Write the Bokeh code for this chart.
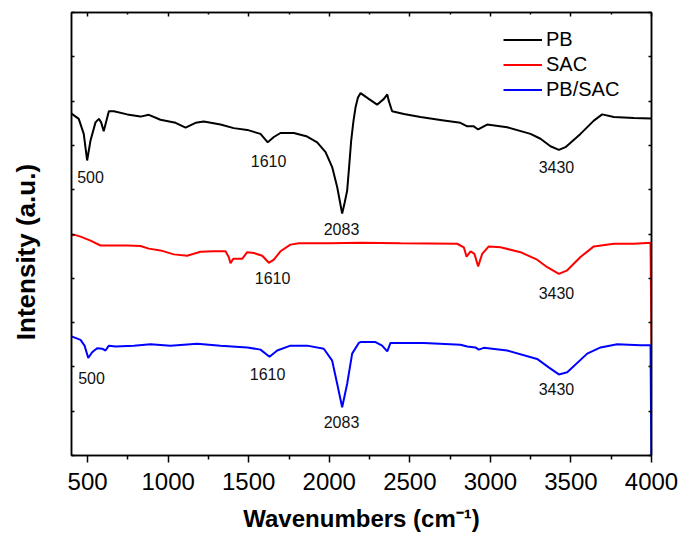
import math
from bokeh.plotting import figure
from bokeh.models import (Range1d, LinearAxis, FixedTicker, ColumnDataSource)
from bokeh.core.properties import value
from bokeh.embed import file_html
from bokeh.resources import INLINE

# ---------------- data ----------------
pb_x = [400, 445, 476, 497, 518, 549, 570, 584, 600, 617, 632, 663, 746, 828, 880, 952,
        1046, 1108, 1170, 1221, 1325, 1407, 1491, 1573, 1618, 1656, 1697, 1780, 1863, 1925,
        1977, 2018, 2049, 2065, 2080, 2095, 2111, 2125, 2136, 2150, 2163, 2178, 2194, 2245,
        2297, 2339, 2360, 2369, 2390, 2463, 2566, 2700, 2814, 2856, 2897, 2924, 2980, 3104,
        3249, 3311, 3373, 3425, 3466, 3559, 3642, 3694, 3766, 3890, 4000]
pb_y = [7.72, 7.60, 7.26, 6.66, 7.11, 7.52, 7.60, 7.52, 7.32, 7.56, 7.77, 7.77, 7.70, 7.65,
        7.69, 7.58, 7.51, 7.40, 7.51, 7.54, 7.47, 7.39, 7.35, 7.26, 7.07, 7.19, 7.28, 7.28,
        7.20, 7.07, 6.85, 6.51, 6.06, 5.75, 5.46, 5.70, 5.98, 6.60, 7.11, 7.55, 7.86, 8.08,
        8.18, 8.05, 7.92, 8.05, 8.15, 8.01, 7.77, 7.71, 7.64, 7.57, 7.51, 7.43, 7.43, 7.36,
        7.47, 7.41, 7.26, 7.15, 6.98, 6.90, 6.96, 7.26, 7.56, 7.70, 7.64, 7.62, 7.61]

sac_x = [400, 420, 456, 518, 580, 642, 746, 828, 880, 952, 1035, 1118, 1201, 1283, 1356,
         1376, 1387, 1404, 1459, 1491, 1532, 1584, 1625, 1656, 1697, 1759, 1811, 2000, 2200,
         2442, 2794, 2835, 2852, 2877, 2901, 2924, 2949, 2990, 3063, 3187, 3290, 3353, 3425,
         3477, 3559, 3642, 3766, 3890, 3994, 4000]
sac_y = [4.97, 4.98, 4.94, 4.85, 4.74, 4.74, 4.74, 4.73, 4.67, 4.63, 4.54, 4.51, 4.60, 4.61,
         4.61, 4.48, 4.34, 4.44, 4.44, 4.59, 4.57, 4.51, 4.35, 4.42, 4.61, 4.76, 4.79, 4.79,
         4.80, 4.79, 4.78, 4.70, 4.49, 4.61, 4.55, 4.27, 4.55, 4.72, 4.70, 4.59, 4.42, 4.25,
         4.10, 4.18, 4.48, 4.72, 4.78, 4.78, 4.80, 2.51]

pbsac_x = [400, 456, 481, 504, 528, 559, 590, 611, 632, 673, 787, 890, 1014, 1180, 1325,
           1491, 1573, 1629, 1677, 1759, 1863, 1966, 2018, 2049, 2080, 2111, 2142, 2183,
           2194, 2287, 2328, 2360, 2380, 2587, 2814, 2856, 2907, 2928, 2959, 3104, 3290,
           3362, 3425, 3477, 3601, 3684, 3787, 3932, 3994, 4000]
pbsac_y = [2.69, 2.61, 2.48, 2.20, 2.33, 2.42, 2.41, 2.37, 2.48, 2.46, 2.48, 2.51, 2.48,
           2.52, 2.48, 2.44, 2.39, 2.23, 2.37, 2.48, 2.48, 2.41, 2.14, 1.62, 1.09, 1.62,
           2.30, 2.54, 2.56, 2.56, 2.48, 2.35, 2.54, 2.54, 2.50, 2.46, 2.44, 2.39, 2.43,
           2.37, 2.18, 1.99, 1.83, 1.88, 2.30, 2.44, 2.51, 2.49, 2.49, -0.5]

series_names = ["PB", "SAC", "PB/SAC"]
series_colors = ["#000000", "#ff0000", "#0000ff"]

ann_text = ["500", "1610", "2083", "3430", "1610", "3430", "500", "1610", "2083", "3430"]
ann_x = [518, 1623, 2076, 3410, 1648, 3410, 524, 1617, 2076, 3410]
ann_y = [6.28, 6.64, 5.12, 6.52, 4.00, 3.66, 1.76, 1.85, 0.745, 1.51]

x_ticks = [500, 1000, 1500, 2000, 2500, 3000, 3500, 4000]
x_minor = [750, 1250, 1750, 2250, 2750, 3250, 3750]
y_ticks = [0, 1, 2, 3, 4, 5, 6, 7, 8, 9, 10]

x_title = "Wavenumbers (cm\u207b\u00b9)"
y_title = "Intensity (a.u.)" + "\u00a0" * 5

FONT = "Liberation Sans"

# ---------------- figure ----------------
p = figure(frame_width=580, frame_height=443, output_backend="svg", toolbar_location=None,
           x_range=Range1d(400, 4000), y_range=Range1d(0, 10),
           min_border_left=71, min_border_right=30, min_border_top=12, min_border_bottom=81)
p.xgrid.visible = False
p.ygrid.visible = False
p.outline_line_color = "black"
p.outline_line_width = 1.5
p.background_fill_color = "white"
p.border_fill_color = "white"

for xs, ys, name, col in zip([pb_x, sac_x, pbsac_x], [pb_y, sac_y, pbsac_y],
                             series_names, series_colors):
    p.line(xs, ys, line_color=col, line_width=2, legend_label=name)

src = ColumnDataSource(dict(x=ann_x, y=ann_y, t=ann_text))
p.text(x="x", y="y", text="t", source=src, text_font=value(FONT), text_font_size="16px",
       text_align="center", text_baseline="middle", text_color="#111111")

# bottom axis
xb = p.xaxis[0]
xb.ticker = FixedTicker(ticks=x_ticks, minor_ticks=x_minor)
xb.major_tick_in = 0
xb.major_tick_out = 7
xb.minor_tick_in = 0
xb.minor_tick_out = 4
xb.major_tick_line_width = 1.5
xb.minor_tick_line_width = 1.5
xb.axis_line_width = 1.5
xb.major_label_text_font = FONT
xb.major_label_text_font_size = "24px"
xb.major_label_text_color = "black"
xb.major_label_standoff = 10
xb.axis_label = x_title
xb.axis_label_text_font = FONT
xb.axis_label_text_font_size = "24px"
xb.axis_label_text_font_style = "bold"
xb.axis_label_text_color = "black"
xb.axis_label_standoff = 12

# left axis
yl = p.yaxis[0]
yl.ticker = FixedTicker(ticks=y_ticks, minor_ticks=[])
yl.major_tick_in = 3
yl.major_tick_out = 0
yl.minor_tick_in = 0
yl.minor_tick_out = 0
yl.major_tick_line_width = 1.5
yl.axis_line_width = 1.5
yl.major_label_text_font_size = "0px"
yl.major_label_overrides = {t: "" for t in y_ticks}
yl.major_label_standoff = 0
yl.axis_label = y_title
yl.axis_label_text_font = FONT
yl.axis_label_text_font_size = "26px"
yl.axis_label_text_font_style = "bold"
yl.axis_label_text_color = "black"
yl.axis_label_standoff = 31

# top axis
xt = LinearAxis(ticker=FixedTicker(ticks=x_ticks, minor_ticks=x_minor),
                major_tick_in=4, major_tick_out=0, minor_tick_in=2, minor_tick_out=0,
                major_tick_line_width=1.5, minor_tick_line_width=1.5, axis_line_width=1.5,
                major_label_text_font_size="0px", major_label_standoff=0,
                major_label_overrides={t: "" for t in x_ticks})
p.add_layout(xt, "above")

# right axis
yr = LinearAxis(ticker=FixedTicker(ticks=y_ticks, minor_ticks=[]),
                major_tick_in=3, major_tick_out=0, minor_tick_in=0, minor_tick_out=0,
                major_tick_line_width=1.5, axis_line_width=1.5,
                major_label_text_font_size="0px", major_label_standoff=0,
                major_label_overrides={t: "" for t in y_ticks})
p.add_layout(yr, "right")

# legend
lg = p.legend[0]
lg.location = (432, 353)
lg.border_line_color = None
lg.background_fill_alpha = 0
lg.padding = 0
lg.margin = 0
lg.spacing = 0
lg.glyph_width = 39
lg.glyph_height = 25
lg.label_height = 25
lg.label_standoff = 4
lg.label_text_font = FONT
lg.label_text_font_size = "20px"
lg.label_text_color = "black"

open("out.html", "w").write(file_html(p, INLINE))
